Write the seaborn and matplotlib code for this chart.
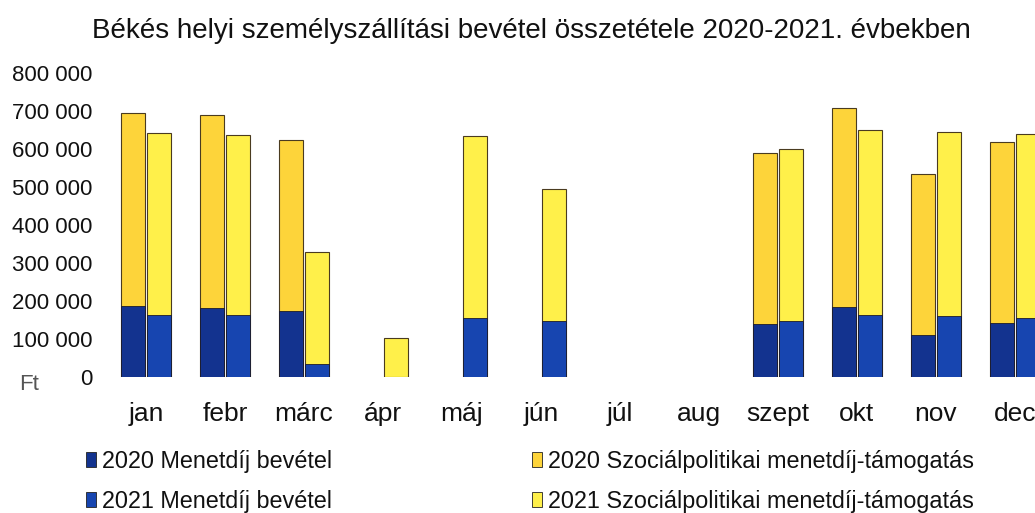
import numpy as np
import pandas as pd
import matplotlib
matplotlib.use("Agg")
import matplotlib.pyplot as plt
import matplotlib.ticker as mticker
from matplotlib.patches import Patch
import seaborn as sns

months = ["jan", "febr", "márc", "ápr", "máj", "jún", "júl", "aug", "szept", "okt", "nov", "dec"]
years = ["2020", "2021"]

# Ft values (NaN = no data)
menetdij_2020 = [188000, 182000, 175000, np.nan, np.nan, np.nan, np.nan, np.nan, 139000, 183000, 110000, 143000]
szoc_2020 = [506000, 507000, 449000, np.nan, np.nan, np.nan, np.nan, np.nan, 451000, 526000, 424000, 475000]
menetdij_2021 = [163000, 162000, 33000, 0, 155000, 147000, np.nan, np.nan, 147000, 163000, 160000, 155000]
szoc_2021 = [478000, 474000, 297000, 102000, 479000, 349000, np.nan, np.nan, 454000, 487000, 485000, 484000]

legend_labels = ["2020 Menetdíj bevétel", "2021 Menetdíj bevétel",
                 "2020 Szociálpolitikai menetdíj-támogatás", "2021 Szociálpolitikai menetdíj-támogatás"]
title = "Békés helyi személyszállítási bevétel összetétele 2020-2021. évbekben"

c_blue20 = "#13338f"
c_blue21 = "#1745b0"
c_yel20 = "#fdd43a"
c_yel21 = "#fff04a"

rows = []
for yr, md, sz in [("2020", menetdij_2020, szoc_2020), ("2021", menetdij_2021, szoc_2021)]:
    for m, a, b in zip(months, md, sz):
        rows.append({"month": m, "year": yr, "menetdij": a, "szoc": b, "total": a + b})
df = pd.DataFrame(rows)

sns.set_style("white")
plt.rcParams["font.family"] = ["Liberation Sans", "DejaVu Sans"]

fig = plt.figure(figsize=(10.35, 5.13), dpi=100)
ax = fig.add_axes([106.5 / 1035, 1 - 377 / 513, 948 / 1035, 304 / 513])

tot = df.dropna(subset=["total"])
sns.barplot(data=tot, x="month", y="total", hue="year", order=months, hue_order=years,
            palette=[c_yel20, c_yel21], width=0.66, gap=0.06, errorbar=None,
            edgecolor="#4a3b20", linewidth=0.8, legend=False, ax=ax, saturation=1)
md = df.dropna(subset=["menetdij"])
sns.barplot(data=md, x="month", y="menetdij", hue="year", order=months, hue_order=years,
            palette=[c_blue20, c_blue21], width=0.66, gap=0.06, errorbar=None,
            edgecolor="#1a1a2a", linewidth=0.6, legend=False, ax=ax, saturation=1)

ax.set_ylim(0, 800000)
ax.set_xlim(-0.5, 11.5)
ax.yaxis.set_major_locator(mticker.MultipleLocator(100000))
ax.yaxis.set_major_formatter(mticker.FuncFormatter(lambda v, p: f"{int(v):,}".replace(",", " ")))
ax.set_xlabel("")
ax.set_ylabel("")
for s in ax.spines.values():
    s.set_visible(False)
ax.tick_params(axis="y", length=0, pad=10, labelsize=16, labelcolor="#111")
ax.tick_params(axis="x", length=0, pad=18, labelsize=19, labelcolor="#111")
ax.grid(False)

fig.text(0.513, 1 - 31 / 513, title, ha="center", va="center", fontsize=20, color="#111")
fig.text(29 / 1035, 1 - 385 / 513, "Ft", ha="center", va="center", fontsize=16, color="#555")

handles = [Patch(facecolor=c, edgecolor="#222", linewidth=0.6)
           for c in [c_blue20, c_blue21, c_yel20, c_yel21]]
leg = fig.legend(handles, legend_labels, ncol=2, loc="upper left",
                 bbox_to_anchor=(86 / 1035, 1 - 450 / 513), frameon=False,
                 fontsize=16.8, handlelength=0.42, handleheight=0.62, handletextpad=0.25,
                 columnspacing=8.6, labelspacing=0.72, borderpad=0, borderaxespad=0)
for t in leg.get_texts():
    t.set_color("#111")

fig.savefig("out.png", dpi=100)
